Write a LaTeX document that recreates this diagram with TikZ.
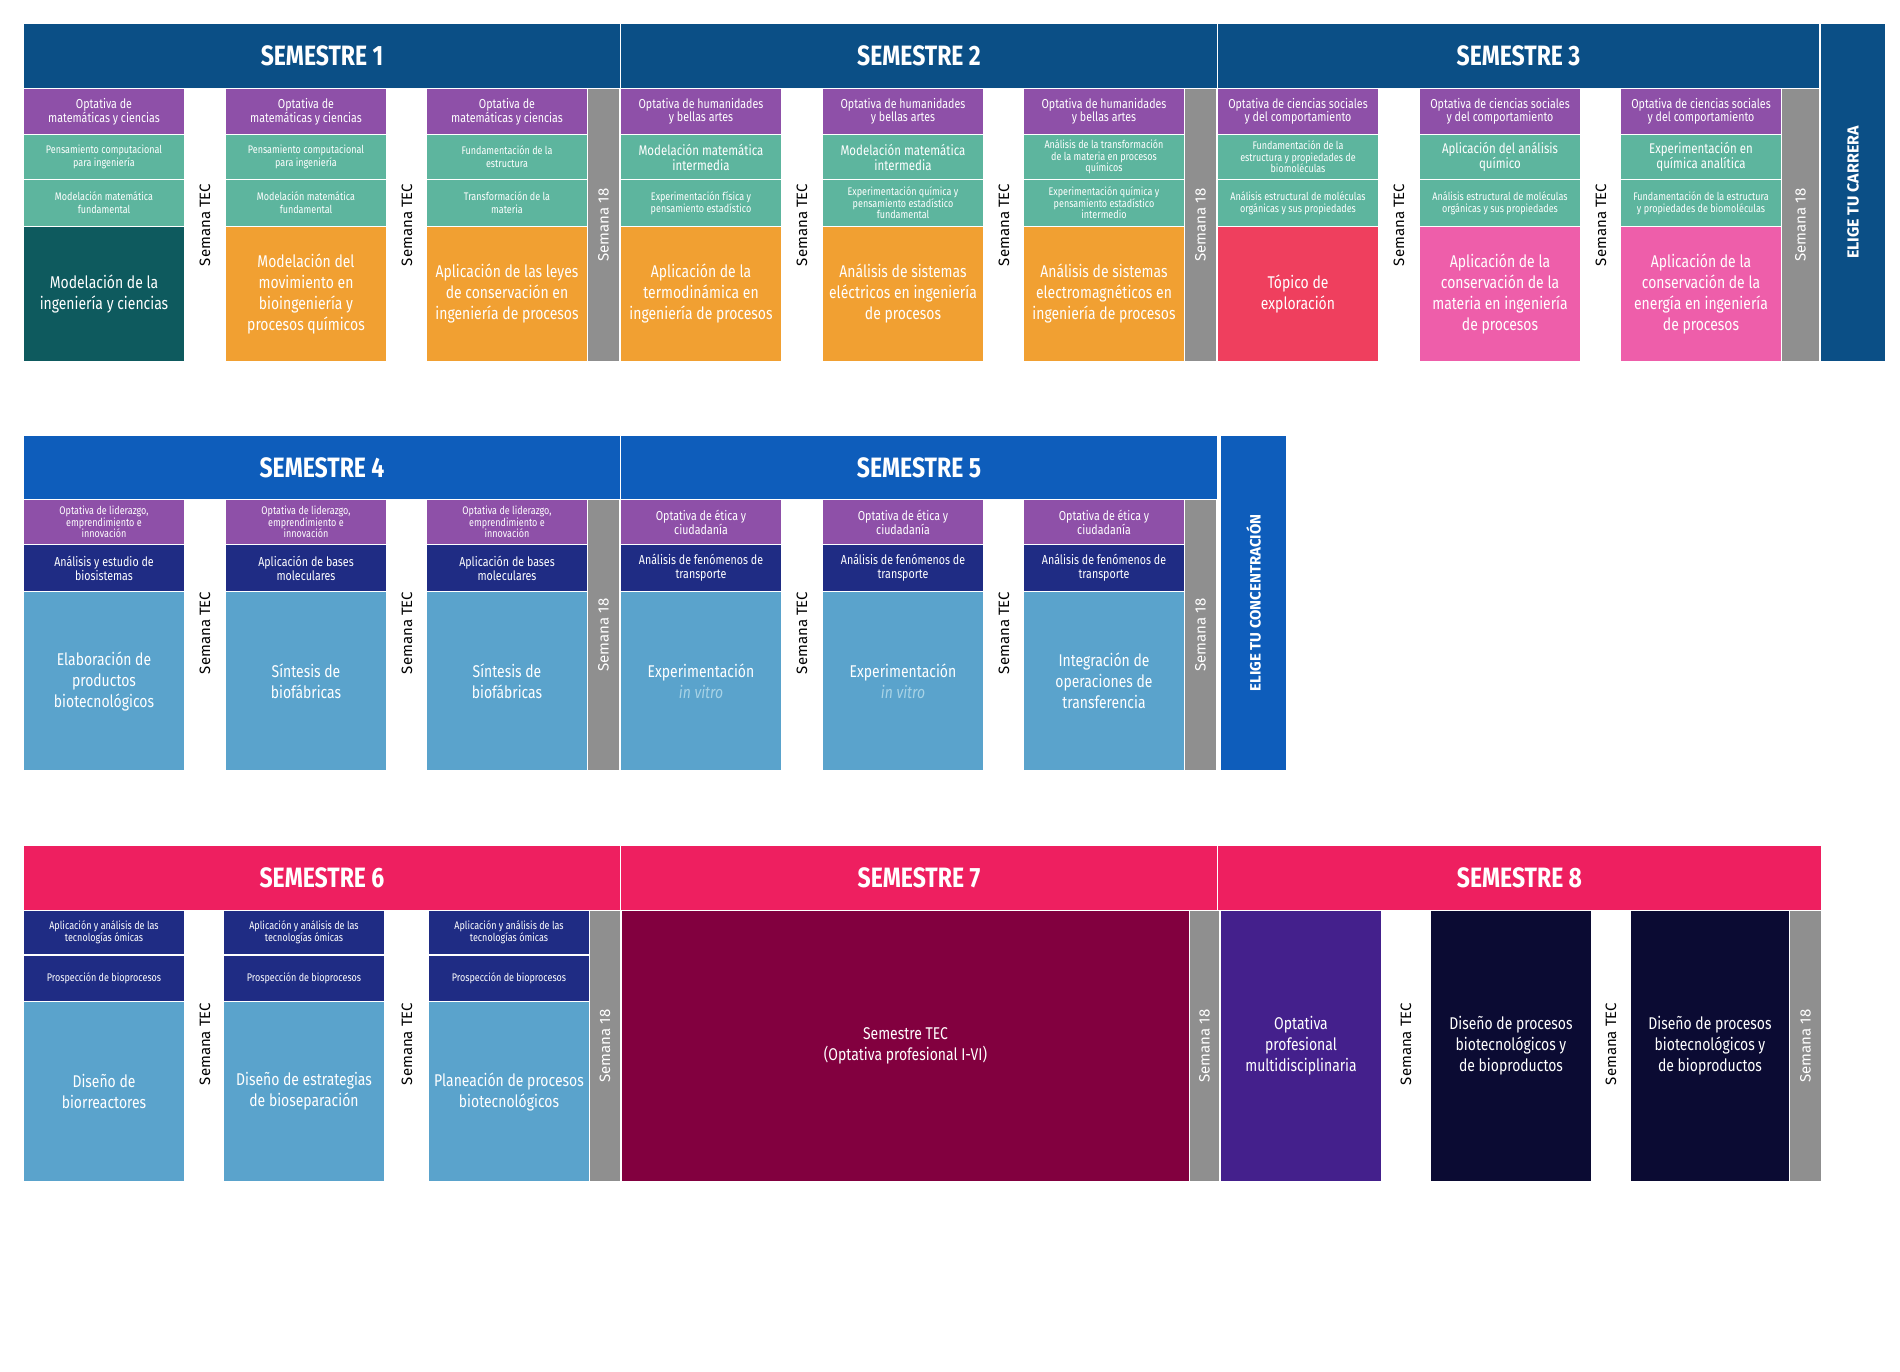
\documentclass[tikz,border=0pt]{standalone}
\usepackage{fontspec}
\setmainfont{Fira Sans}[FakeStretch=0.82]
\newfontfamily\semfont{Fira Sans}
\definecolor{bannA}{HTML}{0B4F86}
\definecolor{bannB}{HTML}{0E5DBB}
\definecolor{bannC}{HTML}{EE1F60}
\definecolor{purp}{HTML}{8E50A8}
\definecolor{teal}{HTML}{5DB59E}
\definecolor{dteal}{HTML}{0E5A5E}
\definecolor{orng}{HTML}{F1A032}
\definecolor{gry}{HTML}{8F8F8F}
\definecolor{redx}{HTML}{EF3F5E}
\definecolor{pink}{HTML}{EE5EAA}
\definecolor{navy}{HTML}{1F2C84}
\definecolor{lblue}{HTML}{5AA3CC}
\definecolor{wine}{HTML}{82003F}
\definecolor{violet}{HTML}{44208C}
\definecolor{dnavy}{HTML}{0B0B33}
\definecolor{vitro}{HTML}{A8D3E6}
\tikzset{cellb/.style={inner sep=0pt,outer sep=0pt,align=center,text=white,draw=none},
 bannb/.style={cellb,font=\fontsize{28}{30}\selectfont\bfseries},
 semtec/.style={rotate=90,inner sep=0pt,font=\semfont\fontsize{15}{16}\selectfont,text=black},
 sem18/.style={semtec,text=white}}
\newcommand\cell[9]{\node[cellb,fill=#6,minimum width={(#4-#2)*1pt},minimum height={(#5-#3)*1pt},font=\fontsize{#7}{#8}\selectfont] (#1) at ({(#2+#4)/2},{(#3+#5)/2}) {#9};}
\begin{document}
\begin{tikzpicture}[x=1pt,y=-1pt]
\useasboundingbox (0,0) rectangle (1900,1372);
% ================= ROW 1
\cell{b1}{24}{24}{620}{88}{bannA}{28}{30}{\textbf{SEMESTRE 1}}
\cell{b2}{621}{24}{1217}{88}{bannA}{28}{30}{\textbf{SEMESTRE 2}}
\cell{b3}{1218}{24}{1819}{88}{bannA}{28}{30}{\textbf{SEMESTRE 3}}
\cell{el1}{1821}{24}{1885}{361}{bannA}{17}{18}{}
\node[rotate=90,text=white,font=\semfont\fontsize{16}{17}\selectfont\bfseries] (el1t) at (el1) {ELIGE TU CARRERA};
% S1
\cell{a11}{24}{89}{184}{134}{purp}{13}{13}{Optativa de\\matemáticas y ciencias}
\cell{a12}{24}{135}{184}{179}{teal}{11}{13}{Pensamiento computacional\\para ingeniería}
\cell{a13}{24}{180}{184}{226}{teal}{11}{13}{Modelación matemática\\fundamental}
\cell{a14}{24}{227}{184}{361}{dteal}{17}{21}{Modelación de la\\ingeniería y ciencias}
\cell{a21}{226}{89}{386}{134}{purp}{13}{13}{Optativa de\\matemáticas y ciencias}
\cell{a22}{226}{135}{386}{179}{teal}{11}{13}{Pensamiento computacional\\para ingeniería}
\cell{a23}{226}{180}{386}{226}{teal}{11}{13}{Modelación matemática\\fundamental}
\cell{a24}{226}{227}{386}{361}{orng}{17}{21}{Modelación del\\movimiento en\\bioingeniería y\\procesos químicos}
\cell{a31}{427}{89}{587}{134}{purp}{13}{13}{Optativa de\\matemáticas y ciencias}
\cell{a32}{427}{135}{587}{179}{teal}{11}{13}{Fundamentación de la\\estructura}
\cell{a33}{427}{180}{587}{226}{teal}{11}{13}{Transformación de la\\materia}
\cell{a34}{427}{227}{587}{361}{orng}{17}{21}{Aplicación de las leyes\\de conservación en\\ingeniería de procesos}
\cell{g1}{588}{89}{619}{361}{gry}{10}{10}{}
\node[semtec] (t11) at (205,225) {Semana TEC};
\node[semtec] (t12) at (407,225) {Semana TEC};
\node[sem18] (s1) at (g1) {Semana 18};
% S2
\cell{c11}{621}{89}{781}{134}{purp}{13}{13}{Optativa de humanidades\\y bellas artes}
\cell{c12}{621}{135}{781}{179}{teal}{14}{15}{Modelación matemática\\intermedia}
\cell{c13}{621}{180}{781}{226}{teal}{11}{12}{Experimentación física y\\pensamiento estadístico}
\cell{c14}{621}{227}{781}{361}{orng}{17}{21}{Aplicación de la\\termodinámica en\\ingeniería de procesos}
\cell{c21}{823}{89}{983}{134}{purp}{13}{13}{Optativa de humanidades\\y bellas artes}
\cell{c22}{823}{135}{983}{179}{teal}{14}{15}{Modelación matemática\\intermedia}
\cell{c23}{823}{180}{983}{226}{teal}{11}{11.5}{Experimentación química y\\pensamiento estadístico\\fundamental}
\cell{c24}{823}{227}{983}{361}{orng}{17}{21}{Análisis de sistemas\\eléctricos en ingeniería\\de procesos}
\cell{c31}{1024}{89}{1184}{134}{purp}{13}{13}{Optativa de humanidades\\y bellas artes}
\cell{c32}{1024}{135}{1184}{179}{teal}{11}{11.5}{Análisis de la transformación\\de la materia en procesos\\químicos}
\cell{c33}{1024}{180}{1184}{226}{teal}{11}{11.5}{Experimentación química y\\pensamiento estadístico\\intermedio}
\cell{c34}{1024}{227}{1184}{361}{orng}{17}{21}{Análisis de sistemas\\electromagnéticos en\\ingeniería de procesos}
\cell{g2}{1185}{89}{1216}{361}{gry}{10}{10}{}
\node[semtec] (t21) at (802,225) {Semana TEC};
\node[semtec] (t22) at (1004,225) {Semana TEC};
\node[sem18] (s2) at (g2) {Semana 18};
% S3
\cell{d11}{1218}{89}{1378}{134}{purp}{13}{13}{Optativa de ciencias sociales\\y del comportamiento}
\cell{d12}{1218}{135}{1378}{179}{teal}{11}{11.5}{Fundamentación de la\\estructura y propiedades de\\biomoléculas}
\cell{d13}{1218}{180}{1378}{226}{teal}{11}{12}{Análisis estructural de moléculas\\orgánicas y sus propiedades}
\cell{d14}{1218}{227}{1378}{361}{redx}{17}{21}{Tópico de\\exploración}
\cell{d21}{1420}{89}{1580}{134}{purp}{13}{13}{Optativa de ciencias sociales\\y del comportamiento}
\cell{d22}{1420}{135}{1580}{179}{teal}{14}{15}{Aplicación del análisis\\químico}
\cell{d23}{1420}{180}{1580}{226}{teal}{11}{12}{Análisis estructural de moléculas\\orgánicas y sus propiedades}
\cell{d24}{1420}{227}{1580}{361}{pink}{17}{21}{Aplicación de la\\conservación de la\\materia en ingeniería\\de procesos}
\cell{d31}{1621}{89}{1781}{134}{purp}{13}{13}{Optativa de ciencias sociales\\y del comportamiento}
\cell{d32}{1621}{135}{1781}{179}{teal}{14}{15}{Experimentación en\\química analítica}
\cell{d33}{1621}{180}{1781}{226}{teal}{11}{12}{Fundamentación de la estructura\\y propiedades de biomoléculas}
\cell{d34}{1621}{227}{1781}{361}{pink}{17}{21}{Aplicación de la\\conservación de la\\energía en ingeniería\\de procesos}
\cell{g3}{1782}{89}{1819}{361}{gry}{10}{10}{}
\node[semtec] (t31) at (1399,225) {Semana TEC};
\node[semtec] (t32) at (1601,225) {Semana TEC};
\node[sem18] (s3) at (g3) {Semana 18};
% ================= ROW 2
\cell{b4}{24}{436}{620}{499}{bannB}{28}{30}{\textbf{SEMESTRE 4}}
\cell{b5}{621}{436}{1217}{499}{bannB}{28}{30}{\textbf{SEMESTRE 5}}
\cell{el2}{1221}{436}{1286}{770}{bannB}{10}{10}{}
\node[rotate=90,text=white,font=\semfont\fontsize{15}{16}\selectfont\bfseries] (el2t) at (el2) {ELIGE TU CONCENTRACIÓN};
\cell{e11}{24}{500}{184}{544}{purp}{11}{11.5}{Optativa de liderazgo,\\emprendimiento e\\innovación}
\cell{e12}{24}{545}{184}{591}{navy}{13}{14}{Análisis y estudio de\\biosistemas}
\cell{e13}{24}{592}{184}{770}{lblue}{17}{21}{Elaboración de\\productos\\biotecnológicos}
\cell{e21}{226}{500}{386}{544}{purp}{11}{11.5}{Optativa de liderazgo,\\emprendimiento e\\innovación}
\cell{e22}{226}{545}{386}{591}{navy}{13}{14}{Aplicación de bases\\moleculares}
\cell{e23}{226}{592}{386}{770}{lblue}{17}{21}{Síntesis de\\biofábricas}
\cell{e31}{427}{500}{587}{544}{purp}{11}{11.5}{Optativa de liderazgo,\\emprendimiento e\\innovación}
\cell{e32}{427}{545}{587}{591}{navy}{13}{14}{Aplicación de bases\\moleculares}
\cell{e33}{427}{592}{587}{770}{lblue}{17}{21}{Síntesis de\\biofábricas}
\cell{g4}{588}{500}{619}{770}{gry}{10}{10}{}
\node[semtec] (t41) at (205,633) {Semana TEC};
\node[semtec] (t42) at (407,633) {Semana TEC};
\node[sem18] (s4) at (g4) {Semana 18};
\cell{f11}{621}{500}{781}{544}{purp}{13}{14}{Optativa de ética y\\ciudadanía}
\cell{f12}{621}{545}{781}{591}{navy}{13}{14}{Análisis de fenómenos de\\transporte}
\cell{f13}{621}{592}{781}{770}{lblue}{17}{21}{Experimentación\\\textcolor{vitro}{\itshape in vitro}}
\cell{f21}{823}{500}{983}{544}{purp}{13}{14}{Optativa de ética y\\ciudadanía}
\cell{f22}{823}{545}{983}{591}{navy}{13}{14}{Análisis de fenómenos de\\transporte}
\cell{f23}{823}{592}{983}{770}{lblue}{17}{21}{Experimentación\\\textcolor{vitro}{\itshape in vitro}}
\cell{f31}{1024}{500}{1184}{544}{purp}{13}{14}{Optativa de ética y\\ciudadanía}
\cell{f32}{1024}{545}{1184}{591}{navy}{13}{14}{Análisis de fenómenos de\\transporte}
\cell{f33}{1024}{592}{1184}{770}{lblue}{17}{21}{Integración de\\operaciones de\\transferencia}
\cell{g5}{1185}{500}{1216}{770}{gry}{10}{10}{}
\node[semtec] (t51) at (802,633) {Semana TEC};
\node[semtec] (t52) at (1004,633) {Semana TEC};
\node[sem18] (s5) at (g5) {Semana 18};
% ================= ROW 3
\cell{b6}{24}{846}{620}{910}{bannC}{28}{30}{\textbf{SEMESTRE 6}}
\cell{b7}{621}{846}{1217}{910}{bannC}{28}{30}{\textbf{SEMESTRE 7}}
\cell{b8}{1218}{846}{1821}{910}{bannC}{28}{30}{\textbf{SEMESTRE 8}}
\cell{h11}{24}{911}{184}{954}{navy}{11}{12}{Aplicación y análisis de las\\tecnologías ómicas}
\cell{h12}{24}{956}{184}{1001}{navy}{11}{12}{Prospección de bioprocesos}
\cell{h13}{24}{1002}{184}{1181}{lblue}{17}{21}{Diseño de\\biorreactores}
\cell{h21}{224}{911}{384}{954}{navy}{11}{12}{Aplicación y análisis de las\\tecnologías ómicas}
\cell{h22}{224}{956}{384}{1001}{navy}{11}{12}{Prospección de bioprocesos}
\cell{h23}{224}{1002}{384}{1181}{lblue}{17}{21}{Diseño de estrategias\\de bioseparación}
\cell{h31}{429}{911}{589}{954}{navy}{11}{12}{Aplicación y análisis de las\\tecnologías ómicas}
\cell{h32}{429}{956}{589}{1001}{navy}{11}{12}{Prospección de bioprocesos}
\cell{h33}{429}{1002}{589}{1181}{lblue}{17}{21}{Planeación de procesos\\biotecnológicos}
\cell{g6}{590}{911}{620}{1181}{gry}{10}{10}{}
\node[semtec] (t61) at (205,1044) {Semana TEC};
\node[semtec] (t62) at (407,1044) {Semana TEC};
\node[sem18] (s6) at (g6) {Semana 18};
\cell{i1}{622}{911}{1189}{1181}{wine}{17}{21}{Semestre TEC\\(Optativa profesional I-VI)}
\cell{g7}{1190}{911}{1219}{1181}{gry}{10}{10}{}
\node[sem18] (s7) at (g7) {Semana 18};
\cell{j1}{1221}{911}{1381}{1181}{violet}{17}{21}{Optativa\\profesional\\multidisciplinaria}
\cell{j2}{1431}{911}{1591}{1181}{dnavy}{17}{21}{Diseño de procesos\\biotecnológicos y\\de bioproductos}
\cell{j3}{1631}{911}{1789}{1181}{dnavy}{17}{21}{Diseño de procesos\\biotecnológicos y\\de bioproductos}
\cell{g8}{1790}{911}{1821}{1181}{gry}{10}{10}{}
\node[semtec] (t81) at (1406,1044) {Semana TEC};
\node[semtec] (t82) at (1611,1044) {Semana TEC};
\node[sem18] (s8) at (g8) {Semana 18};
\end{tikzpicture}
\end{document}
